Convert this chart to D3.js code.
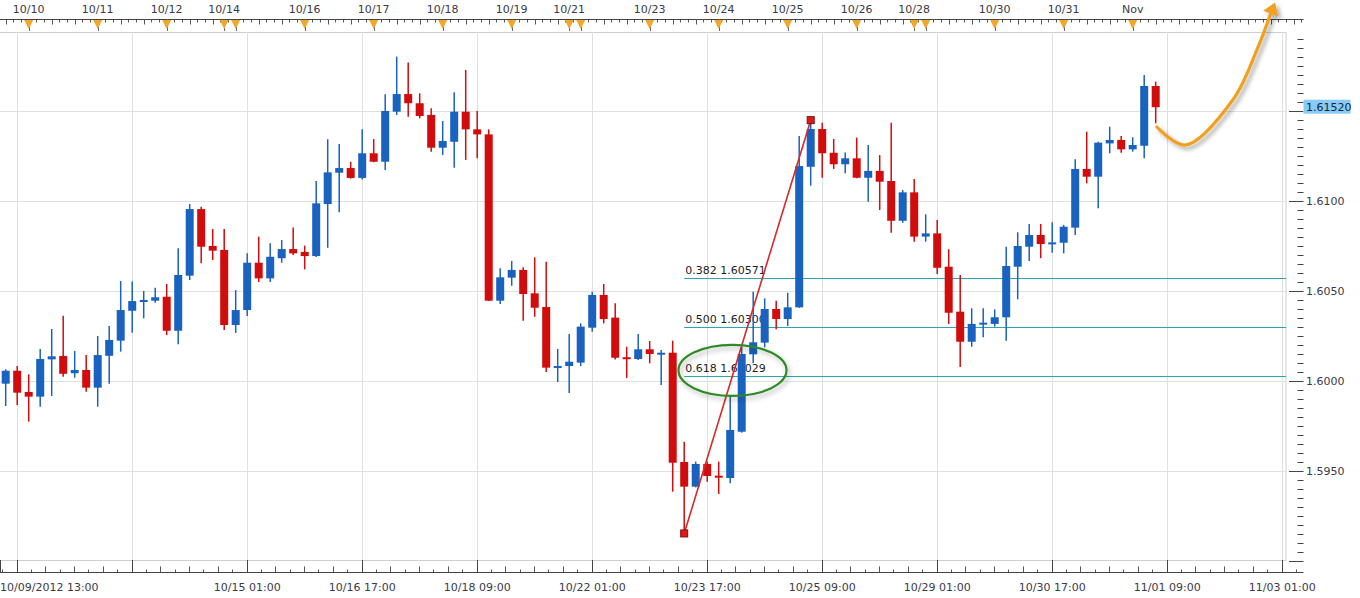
<!DOCTYPE html>
<html><head><meta charset="utf-8">
<script src="https://cdn.jsdelivr.net/npm/d3@7"></script>
<style>
html,body{margin:0;padding:0;background:#fff;}
svg{display:block;}
text{font-family:Verdana,"DejaVu Sans",sans-serif;font-size:11px;fill:#3a3a4a;}
</style></head><body>
<svg id="chart" width="1360" height="598"></svg>
<script>
// ---- data: 4-hour candles, index 0..100 ----
const openP = [
1.59984,1.60056,1.59938,1.59912,1.60119,1.60138,1.60042,1.60060,1.59962,1.60139,
1.60223,1.60389,1.60439,1.60445,1.60467,1.60278,1.60584,1.60954,1.60749,1.60727,
1.60310,1.60393,1.60656,1.60569,1.60681,1.60732,1.60716,1.60693,1.60982,1.61156,
1.61182,1.61127,1.61264,1.61217,1.61495,1.61593,1.61542,1.61477,1.61295,1.61328,
1.61495,1.61397,1.61369,1.60445,1.60573,1.60616,1.60486,1.60410,1.60073,1.60082,
1.60101,1.60295,1.60477,1.60351,1.60131,1.60121,1.60175,1.60149,1.60156,1.59549,
1.59412,1.59538,1.59473,1.59460,1.59717,1.60147,1.60212,1.60399,1.60343,1.60408,
1.61189,1.61399,1.61267,1.61203,1.61236,1.61128,1.61166,1.61110,1.60889,1.61047,
1.60801,1.60819,1.60634,1.60384,1.60217,1.60314,1.60316,1.60353,1.60634,1.60745,
1.60810,1.60762,1.60767,1.60851,1.61177,1.61134,1.61319,1.61338,1.61286,1.61306,
1.61638];
const highP = [
1.60064,1.60082,1.60036,1.60177,1.60288,1.60362,1.60166,1.60143,1.60249,1.60304,
1.60554,1.60551,1.60499,1.60517,1.60538,1.60736,1.60982,1.60967,1.60843,1.60843,
1.60504,1.60708,1.60801,1.60764,1.60782,1.60851,1.60751,1.61110,1.61342,1.61316,
1.61217,1.61397,1.61343,1.61592,1.61801,1.61769,1.61597,1.61514,1.61443,1.61603,
1.61727,1.61499,1.61397,1.60625,1.60666,1.60631,1.60686,1.60662,1.60177,1.60260,
1.60319,1.60495,1.60538,1.60431,1.60189,1.60260,1.60221,1.60171,1.60223,1.59662,
1.59551,1.59551,1.59551,1.59921,1.60189,1.60495,1.60458,1.60445,1.60489,1.61360,
1.61448,1.61434,1.61343,1.61269,1.61351,1.61310,1.61254,1.61434,1.61060,1.61121,
1.60925,1.60893,1.60731,1.60588,1.60403,1.60403,1.60397,1.60745,1.60825,1.60871,
1.60871,1.60881,1.60866,1.61231,1.61384,1.61328,1.61412,1.61360,1.61353,1.61699,
1.61662];
const lowP = [
1.59860,1.59866,1.59773,1.59856,1.59916,1.60023,1.60017,1.59939,1.59856,1.59984,
1.60162,1.60267,1.60347,1.60434,1.60254,1.60203,1.60560,1.60653,1.60671,1.60282,
1.60266,1.60360,1.60549,1.60549,1.60656,1.60699,1.60619,1.60688,1.60739,1.60936,
1.61123,1.61119,1.61214,1.61171,1.61477,1.61467,1.61458,1.61273,1.61254,1.61184,
1.61227,1.61236,1.60443,1.60427,1.60528,1.60334,1.60356,1.60049,1.59993,1.59932,
1.60082,1.60273,1.60319,1.60119,1.60016,1.60116,1.60097,1.59977,1.59384,1.59152,
1.59408,1.59439,1.59371,1.59431,1.59712,1.60097,1.60186,1.60286,1.60304,1.60406,
1.61084,1.61128,1.61177,1.61153,1.61125,1.60995,1.60949,1.60823,1.60878,1.60773,
1.60773,1.60593,1.60316,1.60077,1.60189,1.60242,1.60301,1.60223,1.60453,1.60666,
1.60681,1.60712,1.60708,1.60810,1.61097,1.60958,1.61264,1.61267,1.61273,1.61236,
1.61431];
const closeP = [
1.60056,1.59934,1.59912,1.60121,1.60136,1.60039,1.60060,1.59962,1.60143,1.60227,
1.60393,1.60443,1.60449,1.60464,1.60278,1.60588,1.60954,1.60745,1.60723,1.60310,
1.60393,1.60656,1.60569,1.60689,1.60732,1.60708,1.60693,1.60986,1.61158,1.61182,
1.61127,1.61264,1.61217,1.61499,1.61593,1.61542,1.61471,1.61295,1.61332,1.61495,
1.61397,1.61369,1.60445,1.60575,1.60616,1.60482,1.60406,1.60073,1.60082,1.60106,
1.60301,1.60477,1.60343,1.60128,1.60121,1.60175,1.60149,1.60156,1.59545,1.59412,
1.59538,1.59471,1.59462,1.59727,1.60149,1.60214,1.60399,1.60343,1.60408,1.61193,
1.61399,1.61264,1.61203,1.61236,1.61128,1.61166,1.61106,1.60889,1.61047,1.60801,
1.60819,1.60628,1.60378,1.60217,1.60316,1.60323,1.60353,1.60638,1.60749,1.60810,
1.60760,1.60769,1.60856,1.61177,1.61134,1.61323,1.61338,1.61286,1.61310,1.61638,
1.61520];

// top axis day markers (bar index) and labels
const dayIdx    = [2,8,14,19,20,26,32,38,44,49,50,56,62,68,74,79,80,86,92,98];
const dayLabels = ["10/10","10/11","10/12","10/14","","10/16","10/17","10/18","10/19","10/21","",
                   "10/23","10/24","10/25","10/26","10/28","","10/30","10/31","Nov"];
// bottom axis major ticks (bar index) and labels
const timeIdx    = [1,11,21,31,41,51,61,71,81,91,101,111];
const timeLabels = ["","","10/15 01:00","10/16 17:00","10/18 09:00","10/22 01:00","10/23 17:00",
                    "10/25 09:00","10/29 01:00","10/30 17:00","11/01 09:00","11/03 01:00"];
const firstTimeLabel = "10/09/2012 13:00";
// price axis labels
const priceTicks = [1.5950,1.6000,1.6050,1.6100];
const gridPrices = [1.5950,1.6000,1.6050,1.6100,1.6150];
// Fibonacci retracement between swing low (bar 59) and swing high (bar 70)
const fibLowIdx = 59, fibHighIdx = 70;
const fibLevels = [0.382,0.500,0.618];

// ---- layout ----
const svg = d3.select("#chart");
const plotL = 0, plotR = 1286, plotT = 32, plotB = 560;
const axisX = 1303.5, topAxisY = 19.5, botAxisY = 572.5;
const x = d3.scaleLinear().domain([0,100]).range([5.7,1155.7]);
const y = d3.scaleLinear().domain([1.59,1.62]).range([560.8,20.8]);
const crisp = v => Math.round(v) + 0.5;

const defs = svg.append("defs");
const sh = defs.append("filter").attr("id","shadow").attr("x","-20%").attr("y","-20%").attr("width","150%").attr("height","150%");
sh.append("feDropShadow").attr("dx",3).attr("dy",3).attr("stdDeviation",2).attr("flood-color","#000").attr("flood-opacity",0.35);
const sh2 = defs.append("filter").attr("id","shadow2").attr("x","-20%").attr("y","-30%").attr("width","150%").attr("height","170%");
sh2.append("feDropShadow").attr("dx",2).attr("dy",3).attr("stdDeviation",2.5).attr("flood-color","#000").attr("flood-opacity",0.3);

// plot frame
svg.append("rect").attr("x",plotL-1).attr("y",plotT+0.5).attr("width",plotR-plotL+1).attr("height",plotB-plotT)
  .attr("fill","#fff").attr("stroke","#cfcfd4").attr("stroke-width",1);

// grid
const grid = svg.append("g").attr("stroke","#e0e0e0").attr("stroke-width",1);
grid.selectAll("line.v").data(timeIdx).join("line")
  .attr("x1",d=>crisp(x(d)-0.6)).attr("x2",d=>crisp(x(d)-0.6)).attr("y1",plotT).attr("y2",plotB);
grid.selectAll("line.h").data(gridPrices).join("line")
  .attr("x1",plotL).attr("x2",plotR).attr("y1",d=>crisp(y(d))).attr("y2",d=>crisp(y(d)));

// fib lines
const fLow = lowP[fibLowIdx], fHigh = highP[fibHighIdx];
const fibData = fibLevels.map(l => ({l, p: fHigh - l*(fHigh-fLow)}));
const fibG = svg.append("g");
fibG.selectAll("line").data(fibData).join("line")
  .attr("x1",x(fibLowIdx)).attr("x2",plotR).attr("y1",d=>crisp(y(d.p))).attr("y2",d=>crisp(y(d.p)))
  .attr("stroke","#2aa6b0").attr("stroke-width",1);

// candles
const idx = d3.range(openP.length);
const up = i => closeP[i] >= openP[i];
const col = i => up(i) ? "#1a62bf" : "#d00c0c";
const cg = svg.append("g");
cg.selectAll("line").data(idx).join("line")
  .attr("x1",i=>x(i)).attr("x2",i=>x(i)).attr("y1",i=>y(highP[i])).attr("y2",i=>y(lowP[i]))
  .attr("stroke",col).attr("stroke-width",1.5);
cg.selectAll("rect").data(idx).join("rect")
  .attr("x",i=>x(i)-4).attr("width",8)
  .attr("y",i=>y(Math.max(openP[i],closeP[i])))
  .attr("height",i=>Math.max(2, y(Math.min(openP[i],closeP[i])) - y(Math.max(openP[i],closeP[i]))))
  .attr("fill",col);

// fib labels
fibG.selectAll("text").data(fibData).join("text")
  .attr("x",x(fibLowIdx)+1).attr("y",d=>y(d.p)-4).style("fill","#1e1e1e")
  .text(d=>d.l.toFixed(3)+" "+d.p.toFixed(5));

// trend line
svg.append("line").attr("x1",x(fibLowIdx)).attr("y1",y(fLow)).attr("x2",x(fibHighIdx)).attr("y2",y(fHigh))
  .attr("stroke","#d42a2a").attr("stroke-width",1.6);
svg.selectAll("rect.anchor").data([[fibLowIdx,fLow],[fibHighIdx,fHigh]]).join("rect").attr("class","anchor")
  .attr("x",d=>x(d[0])-3.5).attr("y",d=>y(d[1])-3.5).attr("width",7).attr("height",7)
  .attr("fill","#e01818").attr("stroke","#7a1010").attr("stroke-width",1);

// green ellipse around 0.618
svg.append("ellipse").attr("cx",x(63.2)).attr("cy",y(1.60058)).attr("rx",54).attr("ry",25.5)
  .attr("fill","none").attr("stroke","#2f8a25").attr("stroke-width",2.2).attr("filter","url(#shadow2)");

// top axis
const topG = svg.append("g");
topG.append("line").attr("x1",0).attr("x2",axisX).attr("y1",topAxisY).attr("y2",topAxisY).attr("stroke","#444");
const topTicks = d3.range(-3, 175).map(k => 2 + k*2/3).filter(v => x(v) >= 0 && x(v) <= axisX-1);
topG.selectAll("line.t").data(topTicks).join("line")
  .attr("x1",d=>crisp(x(d))).attr("x2",d=>crisp(x(d))).attr("y1",topAxisY)
  .attr("y2",d=> topAxisY + ((Math.round((d-2)*1.5)%3===0)?5:3)).attr("stroke","#555");
topG.selectAll("line.stem").data(dayIdx).join("line")
  .attr("x1",d=>crisp(x(d))).attr("x2",d=>crisp(x(d))).attr("y1",topAxisY).attr("y2",31).attr("stroke","#666");
topG.selectAll("path").data(dayIdx).join("path")
  .attr("d",d=>`M${x(d)-4.5},${topAxisY+0.5}L${x(d)+4.5},${topAxisY+0.5}L${x(d)},${topAxisY+9.5}Z`)
  .attr("fill","#f2a62a");
topG.selectAll("text").data(dayIdx).join("text")
  .attr("x",d=>x(d)).attr("y",12.5).attr("text-anchor","middle").text((d,i)=>dayLabels[i]);

// bottom axis
const botG = svg.append("g");
botG.append("line").attr("x1",0).attr("x2",axisX).attr("y1",botAxisY).attr("y2",botAxisY).attr("stroke","#444");
botG.append("line").attr("x1",0.5).attr("x2",0.5).attr("y1",plotB).attr("y2",botAxisY).attr("stroke","#444");
botG.selectAll("line.M").data(timeIdx).join("line")
  .attr("x1",d=>crisp(x(d)-0.6)).attr("x2",d=>crisp(x(d)-0.6)).attr("y1",plotB).attr("y2",botAxisY).attr("stroke","#444");
const minor = [];
timeIdx.forEach(t => { for (let k=1;k<8;k++) minor.push({v:t - 10 + k*10/8, k}); });
minor.push({v:timeIdx[timeIdx.length-1] + 10/8, k:1});
botG.selectAll("line.m").data(minor.filter(d=>x(d.v)>2 && x(d.v)<axisX)).join("line")
  .attr("x1",d=>crisp(x(d.v)-0.6)).attr("x2",d=>crisp(x(d.v)-0.6))
  .attr("y1",d=>botAxisY-(d.k%2===0?6:3)).attr("y2",botAxisY).attr("stroke","#555");
botG.selectAll("text").data(timeIdx).join("text")
  .attr("x",d=>x(d)).attr("y",591).attr("text-anchor","middle").text((d,i)=>timeLabels[i]);
botG.append("text").attr("x",0).attr("y",591).text(firstTimeLabel);

// right price axis
const ra = svg.append("g");
ra.append("line").attr("x1",axisX).attr("x2",axisX).attr("y1",topAxisY).attr("y2",botAxisY).attr("stroke","#444");
const pTicks = d3.range(0, 59).map(k => 1.59 + k*0.0005).filter(p => y(p) > topAxisY+2);
ra.selectAll("line").data(pTicks).join("line")
  .attr("x1",d=> (Math.round((d-1.59)/0.0005)%10===0) ? 1289 : 1297.5).attr("x2",axisX)
  .attr("y1",d=>crisp(y(d))).attr("y2",d=>crisp(y(d))).attr("stroke","#444");
ra.selectAll("text").data(priceTicks).join("text")
  .attr("x",1306).attr("y",d=>y(d)+4).text(d=>d.toFixed(4));

// current price tag
const last = closeP[closeP.length-1];
ra.append("rect").attr("x",axisX).attr("y",y(last)-7.5).attr("width",47).attr("height",14).attr("fill","#86ccf4");
ra.append("text").attr("x",1306).attr("y",y(last)+4).style("fill","#17233f").text(last.toFixed(5));

// orange forecast arrow
const arrowPts = [[100.1,1.61410],[102.6,1.61310],[106.7,1.61560],[108.8,1.61838],[110.0,1.62040]]
  .map(d=>[x(d[0]),y(d[1])]);
const ag = svg.append("g").attr("filter","url(#shadow)");
ag.append("path").attr("d",d3.line().curve(d3.curveCatmullRom.alpha(0.5))(arrowPts))
  .attr("fill","none").attr("stroke","#f0a01e").attr("stroke-width",3.2).attr("stroke-linecap","round");
const [bx,by] = arrowPts[arrowPts.length-1], [px,py] = arrowPts[arrowPts.length-2];
const len = Math.hypot(bx-px,by-py), ux=(bx-px)/len, uy=(by-py)/len;
const tip=[bx+ux*12, by+uy*12], L=[bx-uy*8, by+ux*8], R=[bx+uy*8, by-ux*8];
ag.append("path").attr("d",`M${tip}L${L}L${R}Z`).attr("fill","#f0a01e");
</script>
</body></html>
